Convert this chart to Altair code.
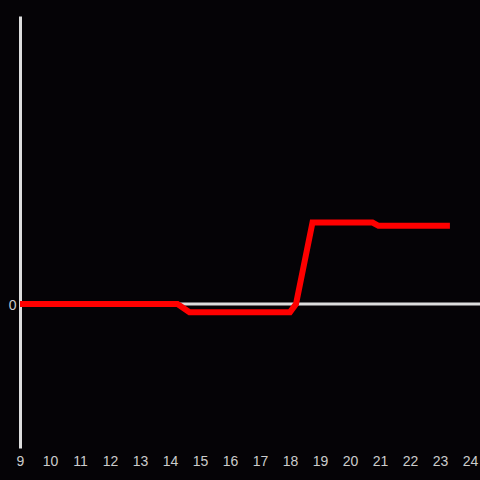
import altair as alt
import pandas as pd

xs = [9, 14.25, 14.65, 18.0, 18.2, 18.75, 20.75, 20.95, 23.33]
ys = [0, 0, -0.1, -0.1, 0, 1.0, 1.0, 0.96, 0.96]
x_ticks = list(range(9, 25))

df = pd.DataFrame({"x": xs, "y": ys})

xscale = alt.Scale(domain=[9, 24.333], nice=False, zero=False)
yscale = alt.Scale(domain=[-1.767, 3.534], nice=False, zero=False)

zero = alt.Chart(pd.DataFrame({"y": [0]})).mark_rule(
    color="#dddddd", strokeWidth=3
).encode(y=alt.Y("y:Q", scale=yscale))

line = alt.Chart(df).mark_line(
    color="#ff0000", strokeWidth=6, strokeCap="butt"
).encode(
    x=alt.X("x:Q", scale=xscale,
            axis=alt.Axis(values=x_ticks, title=None, ticks=False, domain=False,
                          grid=False, labelPadding=6, labelFontSize=14,
                          labelFlush=False, labelOverlap=False, format="d",
                          labelColor="#cccccc", labelFont="Liberation Sans")),
    y=alt.Y("y:Q", scale=yscale,
            axis=alt.Axis(values=[0], title=None, ticks=False, domain=True,
                          domainColor="#dddddd", domainWidth=3, grid=False,
                          labelPadding=4, labelFontSize=14, format="d",
                          labelOffset=1, labelFlush=False,
                          labelColor="#cccccc", labelFont="Liberation Sans")),
)

chart = alt.layer(zero, line).properties(
    width=460, height=432,
    autosize=alt.AutoSizeParams(type="none"),
    padding={"left": 20, "top": 16, "right": 0, "bottom": 32},
    background="#050306",
).configure_view(stroke=None)

chart.save("out.html", embed_options={
    "renderer": "svg", "actions": False,
    "defaultStyle": "html,body{margin:0;padding:0;background:#050306;overflow:hidden}",
})
